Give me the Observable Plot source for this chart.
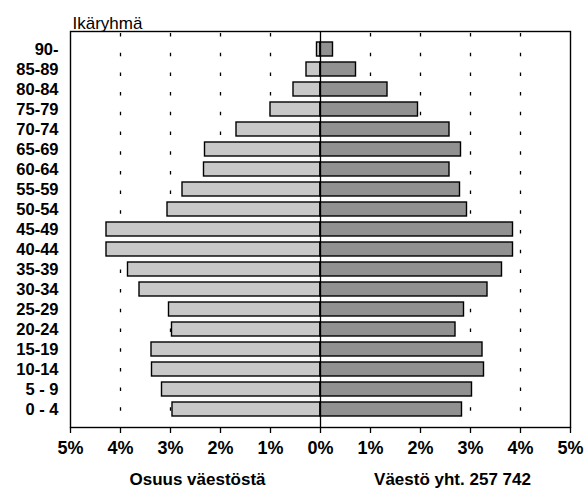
<!DOCTYPE html>
<html>
<head>
<meta charset="utf-8">
<script src="https://cdn.jsdelivr.net/npm/d3@7"></script>
<script src="https://cdn.jsdelivr.net/npm/@observablehq/plot@0.6"></script>
<style>
  html, body { margin: 0; padding: 0; background: #fff; }
  #chart svg { display: block; }
</style>
</head>
<body>
<div id="chart"></div>
<script>
const ageGroups = ["0 - 4","5 - 9","10-14","15-19","20-24","25-29","30-34","35-39","40-44","45-49","50-54","55-59","60-64","65-69","70-74","75-79","80-84","85-89","90-"];
const leftShare  = [2.96,3.17,3.37,3.38,2.97,3.03,3.62,3.85,4.28,4.28,3.06,2.76,2.33,2.31,1.68,1.00,0.54,0.28,0.07];
const rightShare = [2.83,3.03,3.27,3.24,2.70,2.87,3.34,3.63,3.85,3.85,2.93,2.79,2.58,2.81,2.58,1.95,1.34,0.71,0.25];
const xTicks = [-5,-4,-3,-2,-1,0,1,2,3,4,5];
const gridTicks = [-4,-3,-2,-1,1,2,3,4];
const titleText = "Ikäryhmä";
const captionLeft = "Osuus väestöstä";
const captionRight = "Väestö yht. 257 742";

const leftRows = ageGroups.map((a, i) => ({age: a, value: -leftShare[i]}));
const rightRows = ageGroups.map((a, i) => ({age: a, value: rightShare[i]}));
const pct = d => Math.abs(d) + "%";

const chart = Plot.plot({
  width: 584,
  height: 494,
  marginLeft: 70,
  marginRight: 14,
  marginTop: 31,
  marginBottom: 67,
  style: {fontFamily: "'Liberation Sans', Arial, sans-serif", color: "#000", background: "#fff"},
  x: {domain: [-5, 5], label: null},
  y: {domain: ageGroups.slice().reverse(), padding: 0.3, label: null},
  marks: [
    Plot.ruleX(gridTicks, {stroke: "#000", strokeWidth: 1.3, strokeDasharray: "3.5,16.2", strokeDashoffset: -2}),
    Plot.barX(leftRows, {x: "value", y: "age", fill: "#c8c8c8", stroke: "#000", strokeWidth: 1.4}),
    Plot.barX(rightRows, {x: "value", y: "age", fill: "#919191", stroke: "#000", strokeWidth: 1.4}),
    Plot.ruleX([0], {stroke: "#000", strokeWidth: 1.3}),
    Plot.frame({stroke: "#000", strokeWidth: 1.4}),
    Plot.axisX({ticks: xTicks, tickFormat: pct, tickSize: 6, tickPadding: 8, fontSize: 18, fontWeight: "bold", strokeWidth: 1.3, label: null}),
    Plot.axisY({tickSize: 0, tickPadding: 12, fontSize: 16.5, fontWeight: "bold", label: null}),
    Plot.text([titleText], {frameAnchor: "top-left", dx: 2, dy: -15, textAnchor: "start", fontSize: 17, fill: "#000"}),
    Plot.text([captionLeft], {frameAnchor: "bottom-left", dx: 127, dy: 57, textAnchor: "middle", fontSize: 17, fontWeight: "bold", fill: "#000"}),
    Plot.text([captionRight], {frameAnchor: "bottom-left", dx: 382, dy: 57, textAnchor: "middle", fontSize: 17, fontWeight: "bold", fill: "#000"})
  ]
});
document.getElementById("chart").appendChild(chart);
</script>
</body>
</html>
